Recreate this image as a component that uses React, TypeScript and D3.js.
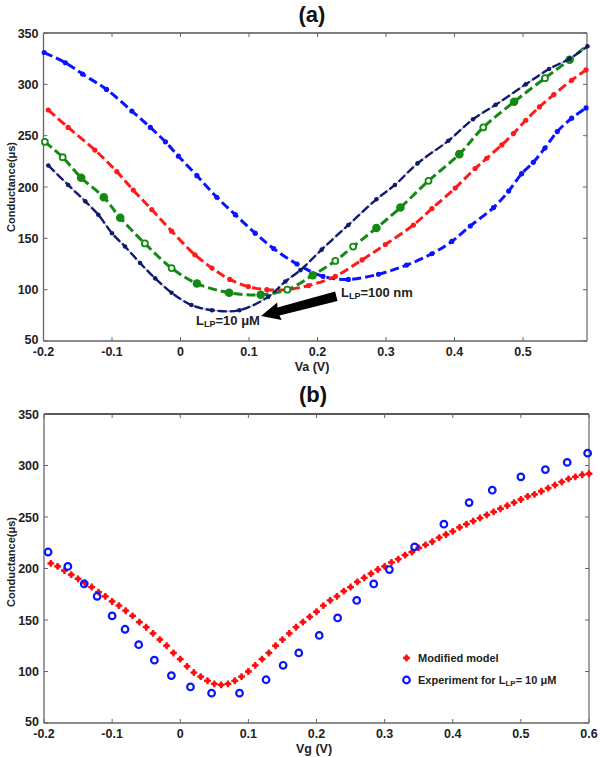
import React from "react";
import * as d3 from "d3";

// ---------- Panel (a) data ----------
const blueVa = [-0.199,-0.168,-0.143,-0.108,-0.071,-0.044,-0.022,-0.003,0.024,0.053,0.080,0.109,0.136,0.170,0.208,0.245,0.289,0.330,0.367,0.396,0.423,0.457,0.479,0.498,0.515,0.532,0.550,0.571,0.592];
const blueG = [331,321,310,295,274,258,244,230,211,190,173,155,140,125,113,110,115,124,135,147,162,180,196,213,224,238,254,267,277];

const redVa = [-0.193,-0.164,-0.125,-0.093,-0.069,-0.042,-0.013,0.021,0.046,0.072,0.099,0.126,0.155,0.187,0.226,0.265,0.299,0.340,0.367,0.401,0.430,0.447,0.469,0.486,0.504,0.524,0.545,0.571,0.592];
const redG = [275,258,236,215,197,178,157,134,121,110,103,100,100,104,113,129,144,163,179,199,218,228,241,252,265,278,290,304,314];

const greenVa = [-0.198,-0.172,-0.145,-0.112,-0.088,-0.052,-0.013,0.024,0.071,0.117,0.156,0.193,0.226,0.252,0.286,0.321,0.362,0.407,0.442,0.487,0.532,0.568,0.594];
const greenG = [244,229,209,190,170,145,121,106,97,95,100,114,128,142,160,180,206,232,258,283,306,324,338];
const greenKind = ["o","o","f","f","f","o","o","f","f","f","o","f","o","o","f","f","o","f","o","f","o","f","n"];

const navyVa = [-0.193,-0.164,-0.139,-0.120,-0.100,-0.081,-0.059,-0.037,-0.013,0.016,0.046,0.086,0.128,0.153,0.175,0.206,0.245,0.286,0.313,0.346,0.391,0.427,0.460,0.504,0.538,0.568,0.594];
const navyG = [221,202,186,173,155,142,126,111,97,85,80,80,93,108,119,139,163,188,202,223,245,266,280,300,315,325,337];

const xTicksA = [-0.2,-0.1,0,0.1,0.2,0.3,0.4,0.5];
const yTicks = [50,100,150,200,250,300,350];

// ---------- Panel (b) data ----------
const modelVg = [-0.19,-0.18,-0.17,-0.16,-0.15,-0.14,-0.13,-0.12,-0.11,-0.10,-0.09,-0.08,-0.07,-0.06,-0.05,-0.04,-0.03,-0.02,-0.01,0.00,
  0.01,0.02,0.03,0.04,0.05,0.06,0.07,0.08,0.09,0.10,0.11,0.12,0.13,0.14,0.15,0.16,0.17,0.18,0.19,0.20,
  0.21,0.22,0.23,0.24,0.25,0.26,0.27,0.28,0.29,0.30,0.31,0.32,0.33,0.34,0.35,0.36,0.37,0.38,0.39,0.40,
  0.41,0.42,0.43,0.44,0.45,0.46,0.47,0.48,0.49,0.50,0.51,0.52,0.53,0.54,0.55,0.56,0.57,0.58,0.59,0.60];
const modelG = [205,202,198,194,190,186,182,177,173,168,164,159,154,148,143,137,131,125,118,112,
  105,99,95,91,88,87,88,91,95,100,106,112,118,125,131,137,143,148,153,158,
  164,169,173,178,182,187,191,195,199,202,206,209,213,216,220,223,226,230,233,236,
  240,243,246,249,252,255,258,261,264,267,270,272,275,278,281,284,287,289,291,292];

const expVg = [-0.194,-0.165,-0.141,-0.122,-0.100,-0.081,-0.061,-0.038,-0.013,0.015,0.046,0.087,0.126,0.151,0.174,0.204,0.231,0.259,0.284,0.307,0.344,0.387,0.424,0.458,0.500,0.536,0.568,0.598];
const expG = [216,202,185,173,154,141,126,111,96,85,79,79,92,106,118,135,152,169,185,199,221,243,264,276,289,296,303,312];

const xTicksB = [-0.2,-0.1,0,0.1,0.2,0.3,0.4,0.5,0.6];

const FONT = "'Liberation Sans', Arial, sans-serif";

const fmt = (v: number) => (Math.abs(v) < 1e-9 ? "0" : String(+v.toFixed(1)));

function zip(xs: number[], ys: number[]) {
  return xs.map((x, i) => [x, ys[i]] as [number, number]);
}

export default function App() {
  // Panel (a) scales
  const xa = d3.scaleLinear().domain([-0.2, 0.5934]).range([43.5, 587]);
  const ya = d3.scaleLinear().domain([50, 350]).range([341, 33]);
  // Panel (b) scales
  const xb = d3.scaleLinear().domain([-0.2, 0.6]).range([44, 589]);
  const yb = d3.scaleLinear().domain([50, 350]).range([723, 414]);

  const lineA = d3
    .line<[number, number]>()
    .x((d) => xa(d[0]))
    .y((d) => ya(d[1]))
    .curve(d3.curveCatmullRom.alpha(0.5));

  const blue = zip(blueVa, blueG);
  const red = zip(redVa, redG);
  const green = zip(greenVa, greenG);
  const navy = zip(navyVa, navyG);

  const axisColor = "#666";

  const frame = (
    x: d3.ScaleLinear<number, number>,
    y: d3.ScaleLinear<number, number>,
    xt: number[],
    topColor: string
  ) => {
    const [x0, x1] = x.range();
    const [y0, y1] = y.range(); // y0 bottom, y1 top
    return (
      <g>
        <line x1={x0} x2={x1} y1={y1} y2={y1} stroke={topColor} strokeWidth={1.3} />
        <line x1={x1} x2={x1} y1={y1} y2={y0} stroke={axisColor} strokeWidth={1.2} />
        <line x1={x0} x2={x1} y1={y0} y2={y0} stroke={axisColor} strokeWidth={1.3} />
        <line x1={x0} x2={x0} y1={y1} y2={y0} stroke={axisColor} strokeWidth={1.3} />
        {xt.map((t) => (
          <g key={"xt" + t}>
            <line x1={x(t)} x2={x(t)} y1={y0} y2={y0 - 4} stroke={axisColor} />
            <line x1={x(t)} x2={x(t)} y1={y1} y2={y1 + 4} stroke={axisColor} />
            <text x={x(t)} y={y0 + 15} textAnchor="middle" fontSize={12.5} fontWeight="bold" fill="#222">
              {fmt(t)}
            </text>
          </g>
        ))}
        {yTicks.map((t) => (
          <g key={"yt" + t}>
            <line x1={x0} x2={x0 + 4} y1={y(t)} y2={y(t)} stroke={axisColor} />
            <line x1={x1} x2={x1 - 4} y1={y(t)} y2={y(t)} stroke={axisColor} />
            <text x={x0 - 5} y={y(t) + (t === 50 ? 3 : 4.5)} textAnchor="end" fontSize={12.5} fontWeight="bold" fill="#222">
              {t}
            </text>
          </g>
        ))}
      </g>
    );
  };

  // Arrow (annotation) in data coordinates
  const tip: [number, number] = [xa(0.1175), ya(74.4)];
  const tail: [number, number] = [xa(0.2277), ya(93)];
  const ang = (Math.atan2(tail[1] - tip[1], tail[0] - tip[0]) * 180) / Math.PI;
  const len = Math.hypot(tail[0] - tip[0], tail[1] - tip[1]);

  return (
    <svg
      width={600}
      height={757}
      style={{ position: "absolute", left: 0, top: 0, background: "#fff" }}
      fontFamily={FONT}
    >
      <rect width={600} height={757} fill="#fff" />
      {/* ---------- Panel (a) ---------- */}
      <text x={312} y={22} textAnchor="middle" fontSize={22} fontWeight="bold" fill="#111">
        (a)
      </text>
      {frame(xa, ya, xTicksA, "#555")}
      <text
        transform={`translate(15,${187}) rotate(-90)`}
        textAnchor="middle"
        fontSize={11}
        fontWeight="bold"
        fill="#222"
      >
        Conductance(μs)
      </text>
      <text x={312} y={371} textAnchor="middle" fontSize={12.5} fontWeight="bold" fill="#222">
        Va (V)
      </text>

      {/* blue */}
      <path d={lineA(blue) || ""} fill="none" stroke="#0a14ff" strokeWidth={3} strokeDasharray="9,4" />
      {blue.map((d, i) => (
        <circle key={"b" + i} cx={xa(d[0])} cy={ya(d[1])} r={2.6} fill="#0a14ff" />
      ))}
      {/* red */}
      <path d={lineA(red) || ""} fill="none" stroke="#ff1a1a" strokeWidth={3} strokeDasharray="9,4" />
      {red.map((d, i) => (
        <circle key={"r" + i} cx={xa(d[0])} cy={ya(d[1])} r={2.6} fill="#ff1a1a" />
      ))}
      {/* green */}
      <path d={lineA(green) || ""} fill="none" stroke="#138a13" strokeWidth={3} strokeDasharray="9,4" />
      {green.map((d, i) =>
        greenKind[i] === "f" ? (
          <circle key={"g" + i} cx={xa(d[0])} cy={ya(d[1])} r={4.3} fill="#138a13" />
        ) : greenKind[i] === "o" ? (
          <circle key={"g" + i} cx={xa(d[0])} cy={ya(d[1])} r={3} fill="#fff" stroke="#138a13" strokeWidth={1.8} />
        ) : null
      )}
      {/* navy */}
      <path d={lineA(navy) || ""} fill="none" stroke="#8a94d8" strokeWidth={1} />
      <path d={lineA(navy) || ""} fill="none" stroke="#101a6e" strokeWidth={2.4} strokeDasharray="9,3" />
      {navy.map((d, i) => (
        <circle key={"n" + i} cx={xa(d[0])} cy={ya(d[1])} r={2.3} fill="#101a6e" />
      ))}

      {/* arrow */}
      <g transform={`translate(${tip[0]},${tip[1]}) rotate(${ang})`}>
        <polygon
          points={`0,0 19,-9 18,-4.2 ${len},-5.5 ${len},4.2 18,4.2 19,9`}
          fill="#000"
        />
      </g>
      <text x={341} y={297} fontSize={13} fontWeight="bold" fill="#222">
        L<tspan fontSize={9} dy={2}>LP</tspan>
        <tspan dy={-2}>=100 nm</tspan>
      </text>
      <text x={196} y={325} fontSize={13} fontWeight="bold" fill="#222">
        L<tspan fontSize={9} dy={2}>LP</tspan>
        <tspan dy={-2}>=10 μM</tspan>
      </text>

      {/* ---------- Panel (b) ---------- */}
      <text x={313} y={402} textAnchor="middle" fontSize={22} fontWeight="bold" fill="#111">
        (b)
      </text>
      {frame(xb, yb, xTicksB, "#222")}
      <text
        transform={`translate(15,${562}) rotate(-90)`}
        textAnchor="middle"
        fontSize={11}
        fontWeight="bold"
        fill="#222"
      >
        Conductance(μs)
      </text>
      <text x={314} y={753} textAnchor="middle" fontSize={12.5} fontWeight="bold" fill="#222">
        Vg (V)
      </text>

      {modelVg.map((v, i) => (
        <g key={"m" + i} transform={`translate(${xb(v)},${yb(modelG[i])})`}>
          <path d={d3.symbol(d3.symbolCross, 26)() || ""} fill="#ff0d0d" />
          <circle r={2.4} fill="#ff0d0d" />
        </g>
      ))}
      {expVg.map((v, i) => (
        <circle key={"e" + i} cx={xb(v)} cy={yb(expG[i])} r={3.3} fill="none" stroke="#0a14ff" strokeWidth={2.2} />
      ))}

      {/* legend */}
      <g transform="translate(406.5,658)">
        <path d={d3.symbol(d3.symbolCross, 26)() || ""} fill="#ff0d0d" />
        <circle r={2.4} fill="#ff0d0d" />
      </g>
      <text x={418} y={662} fontSize={11} fontWeight="bold" fill="#222">
        Modified model
      </text>
      <circle cx={406.5} cy={680} r={3.3} fill="none" stroke="#0a14ff" strokeWidth={2.2} />
      <text x={418} y={684} fontSize={11} fontWeight="bold" fill="#222">
        Experiment for L<tspan fontSize={8} dy={2}>LP</tspan>
        <tspan dy={-2}>= 10 μM</tspan>
      </text>
    </svg>
  );
}
